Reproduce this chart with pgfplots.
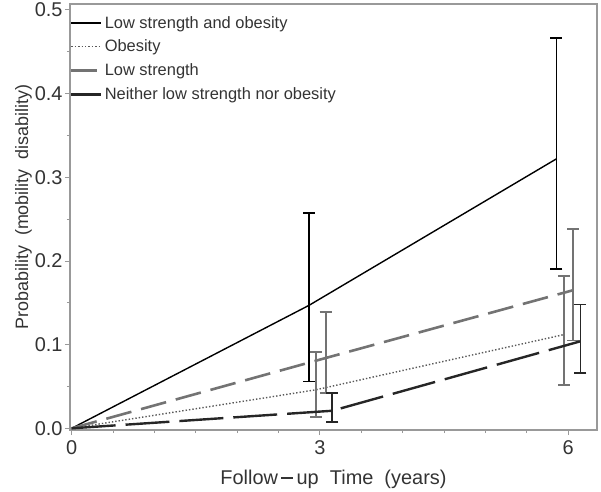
\documentclass[border=0pt]{standalone}
\usepackage{pgfplots}
\pgfplotsset{compat=1.18}
\usepackage{fontspec}
\setmainfont{Liberation Sans}
\definecolor{lsgray}{gray}{0.45}
\definecolor{obgray}{gray}{0.35}
\definecolor{framegray}{gray}{0.6}
\begin{document}
\begin{tikzpicture}
\begin{axis}[
  scale only axis,
  width=527bp, height=426bp,
  xmin=-0.02, xmax=6.35,
  ymin=-0.002, ymax=0.507,
  xtick={0,3,6},
  minor xtick={0.5,1,1.5,2,2.5,3.5,4,4.5,5,5.5},
  ytick={0,0.1,0.2,0.3,0.4,0.5},
  minor ytick={0.05,0.15,0.25,0.35,0.45},
  yticklabel style={/pgf/number format/fixed,/pgf/number format/fixed zerofill,/pgf/number format/precision=1},
  /pgf/number format/assume math mode=true,
  tick align=outside,
  xtick pos=left, ytick pos=left,
  major tick length=5bp, minor tick length=3bp,
  tick style={framegray, line width=0.8bp},
  axis line style={framegray, line width=1.2bp},
  ticklabel style={font=\fontsize{20}{22}\selectfont, text=black!80},
  xticklabel style={yshift=-2bp},
  yticklabel style={xshift=1bp},
  xlabel={Follow\,\rule[0.3em]{0.6em}{0.12em}\,up\ \ Time\ \ (years)},
  ylabel={Probability\ \ (mobility\ \ disability)},
  label style={text=black!80},
  xlabel style={font=\fontsize{20}{22}\selectfont, yshift=-9bp},
  ylabel style={font=\fontsize{18}{20}\selectfont, yshift=-4bp, xshift=10bp},
  legend style={draw=none, fill=none, at={(0,1)}, anchor=north west,
    font=\fontsize{16.5}{18.5}\selectfont, text=black!80, row sep=6.5bp,
    legend cell align=left, xshift=-3bp, yshift=-8bp},
  legend image code/.code={\path (0bp,0bp) -- (30bp,0bp); \draw[#1] (0bp,0bp) -- (25bp,0bp);},
  error bars/error bar style={solid, line width=1.8bp},
  error bars/error mark options={rotate=90, mark size=6bp, line width=1.8bp},
]
\addplot[black, line width=1.4bp,
  error bars/.cd, y dir=both, y explicit]
  coordinates {(0,0) (2.87,0.147) += (0,0.110) -= (0,0.091) (5.86,0.322) += (0,0.144) -= (0,0.132)};
\addlegendentry{Low strength and obesity}
\addplot[obgray, line width=1.4bp, dotted,
  error bars/.cd, y dir=both, y explicit,
  error bar style={lsgray, solid, line width=1.8bp},
  error mark options={rotate=90, mark size=6bp, line width=1.8bp, lsgray}]
  coordinates {(0,0) (2.95,0.046) += (0,0.045) -= (0,0.0325) (5.95,0.112) += (0,0.070) -= (0,0.0605)};
\addlegendentry{Obesity}
\addplot[lsgray, line width=2.6bp, dash pattern=on 26bp off 10bp,
  error bars/.cd, y dir=both, y explicit]
  coordinates {(0,0) (3.07,0.084) += (0,0.055) -= (0,0.042) (6.06,0.165) += (0,0.073) -= (0,0.060)};
\addlegendentry{Low strength}
\addplot[black!85, line width=2.4bp, dash pattern=on 44bp off 10bp,
  error bars/.cd, y dir=both, y explicit]
  coordinates {(0,0) (3.15,0.021) += (0,0.021) -= (0,0.0135) (6.15,0.104) += (0,0.044) -= (0,0.038)};
\addlegendentry{Neither low strength nor obesity}
\end{axis}
\pgfresetboundingbox
\path ([shift={(-70bp,-62bp)}]current axis.south west) rectangle ([shift={(4bp,4bp)}]current axis.north east);
\end{tikzpicture}
\end{document}
